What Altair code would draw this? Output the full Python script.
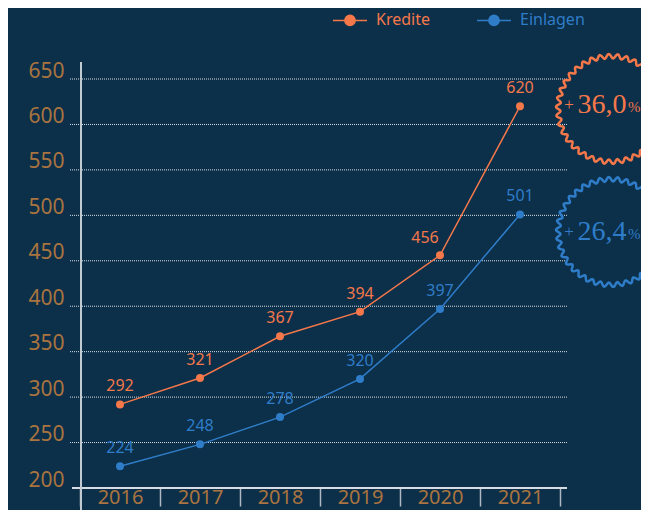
import altair as alt
import pandas as pd
import numpy as np

years = ["2016", "2017", "2018", "2019", "2020", "2021"]
kredite = [292, 321, 367, 394, 456, 620]
einlagen = [224, 248, 278, 320, 397, 501]
series_names = ["Kredite", "Einlagen"]
series_colors = ["#f4784a", "#2f7dc8"]
grid_values = [250, 300, 350, 400, 450, 500, 550, 600, 650]
y_ticks = [200, 250, 300, 350, 400, 450, 500, 550, 600, 650]
badge_labels = ["36,0", "26,4"]

BG = "#0c2f4a"
LABEL = "#a9743f"

rows = []
for y, k, e in zip(years, kredite, einlagen):
    rows.append({"year": y, "series": "Kredite", "value": k})
    rows.append({"year": y, "series": "Einlagen", "value": e})
df = pd.DataFrame(rows)
grid_df = pd.DataFrame({"v": grid_values})

W, H = 480, 409

xs = alt.Scale(type="band", domain=years, paddingInner=0, paddingOuter=0)
ys = alt.Scale(domain=[200, 650], nice=False, zero=False)
cs = alt.Scale(domain=series_names, range=series_colors)

legend_path = "M-1,0L1,0M0.3,0A0.3,0.3,0,1,1,-0.3,0A0.3,0.3,0,1,1,0.3,0Z"
col_expr = "datum.value == '%s' ? '%s' : '%s'" % (series_names[0], series_colors[0], series_colors[1])

y_axis = alt.Axis(values=y_ticks, domain=False, ticks=False, labelPadding=16,
                  labelOffset=-8, labelFontSize=21, labelColor=LABEL,
                  labelFont="Noto Sans", grid=False)
x_axis = alt.Axis(domain=False, ticks=True, tickBand="extent", tickSize=18,
                  tickColor="#aeb8c2", tickWidth=1.5, labelFontSize=20,
                  labelColor=LABEL, labelFont="Noto Sans", labelPadding=-3,
                  labelBaseline="alphabetic", labelAngle=0, grid=False)

grid = alt.Chart(grid_df).mark_rule(color="#ffffff", strokeDash=[1, 1], strokeWidth=1, opacity=0.85).encode(
    y=alt.Y("v:Q", scale=ys, axis=y_axis, title=None), x=alt.value(-10), x2=alt.value(487))

base_rule = alt.Chart(grid_df).mark_rule(color="#d6dce2", strokeWidth=1.5).encode(
    y=alt.datum(200, scale=ys), x=alt.value(-8), x2=alt.value(487))

y_line = alt.Chart(grid_df).mark_rule(color="#c2cad2", strokeWidth=1.5).encode(
    x=alt.value(1), y=alt.value(-17), y2=alt.value(440))

color_enc = alt.Color("series:N", scale=cs, sort=series_names, title=None,
                      legend=alt.Legend(orient="none", legendX=252, legendY=-77,
                                        direction="horizontal", symbolType=legend_path,
                                        symbolSize=1156, symbolStrokeWidth=1.5,
                                        symbolFillColor=alt.ExprRef(col_expr),
                                        symbolStrokeColor=alt.ExprRef(col_expr),
                                        symbolOpacity=1,
                                        labelColor=alt.ExprRef(col_expr),
                                        labelFontSize=16, labelFont="Noto Sans",
                                        columnPadding=44, labelOffset=8, padding=0))

lines = alt.Chart(df).mark_line(strokeWidth=1.5).encode(
    x=alt.X("year:N", scale=xs, sort=years, title=None, axis=x_axis),
    y=alt.Y("value:Q", scale=ys, title=None, axis=y_axis),
    color=color_enc)
points = alt.Chart(df).mark_circle(size=64, opacity=1).encode(
    x=alt.X("year:N", scale=xs, sort=years), y=alt.Y("value:Q", scale=ys),
    color=alt.Color("series:N", scale=cs, legend=None))

not_special = "!(datum.series == 'Kredite' && datum.year == '2020')"
labels = alt.Chart(df).mark_text(dy=-18, fontSize=16, font="Noto Sans").encode(
    x=alt.X("year:N", scale=xs, sort=years), y=alt.Y("value:Q", scale=ys),
    text="value:Q", color=alt.Color("series:N", scale=cs, legend=None)
).transform_filter(not_special)
label_special = alt.Chart(df).mark_text(dy=-17, dx=-15, fontSize=16, font="Noto Sans").encode(
    x=alt.X("year:N", scale=xs, sort=years), y=alt.Y("value:Q", scale=ys),
    text="value:Q", color=alt.Color("series:N", scale=cs, legend=None)
).transform_filter("!(" + not_special + ")")

# scalloped badge shape
n = 38 * 12
th = np.linspace(0, 2 * np.pi, n, endpoint=False)
r = 0.96 + 0.04 * np.sin(38 * th)
pts = ["%.4f,%.4f" % (ri * np.cos(t), ri * np.sin(t)) for ri, t in zip(r, th)]
badge_path = "M" + "L".join(pts) + "Z"

badges = []
centers = [30, 153]
baselines = [34, 161]
for lab, col, cy, bl in zip(badge_labels, series_colors, centers, baselines):
    bdf = pd.DataFrame({"t": [lab]})
    ring = alt.Chart(bdf).mark_point(shape=badge_path, size=12100, filled=False,
                                     stroke=col, strokeWidth=2.5, opacity=1).encode(
        x=alt.value(531), y=alt.value(cy))
    plus = alt.Chart(bdf).mark_text(text="+", font="Liberation Serif", fontSize=17, color=col,
                                    align="center", baseline="alphabetic").encode(
        x=alt.value(489), y=alt.value(bl - 3))
    num = alt.Chart(bdf).mark_text(font="Liberation Serif", fontSize=28, color=col,
                                   align="center", baseline="alphabetic").encode(
        x=alt.value(522), y=alt.value(bl), text="t:N")
    pct = alt.Chart(bdf).mark_text(text="%", font="Liberation Serif", fontSize=15, color=col,
                                   align="left", baseline="alphabetic").encode(
        x=alt.value(548), y=alt.value(bl - 1))
    badges += [ring, plus, num, pct]

chart = alt.layer(grid, base_rule, y_line, lines, points, labels, label_special, *badges).properties(
    width=W, height=H, background=BG,
    padding={"left": 72, "top": 71, "right": 81, "bottom": 22},
    autosize=alt.AutoSizeParams(type="none")
).configure_view(stroke=None).configure_axis(labelFont="Noto Sans")

chart.save("out.html", embed_options={"renderer": "svg", "actions": False})
